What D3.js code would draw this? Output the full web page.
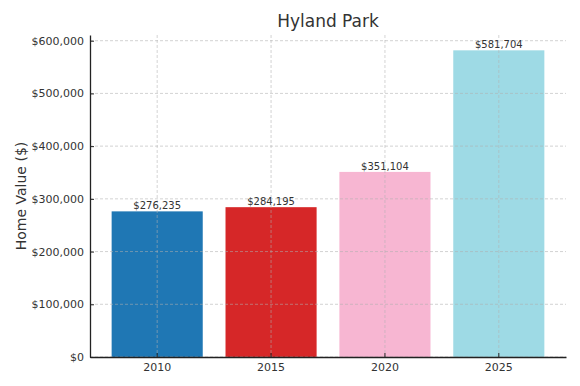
<!DOCTYPE html>
<html>
<head>
<meta charset="utf-8">
<script src="https://cdn.jsdelivr.net/npm/d3@7"></script>
<style>
  body { margin: 0; background: #fff; }
  text { font-family: "DejaVu Sans", sans-serif; fill: #333; }
</style>
</head>
<body>
<div id="chart"></div>
<script>
const years = ["2010", "2015", "2020", "2025"];
const values = [276235, 284195, 351104, 581704];
const barColors = ["#1f77b4", "#d62728", "#f7b6d2", "#9edae5"];
const yTicks = [0, 100000, 200000, 300000, 400000, 500000, 600000];

const width = 580, height = 386;
const margin = { top: 35, right: 14, bottom: 29, left: 90 };
const innerW = width - margin.left - margin.right;
const innerH = height - margin.top - margin.bottom;

const svg = d3.select("#chart").append("svg")
  .attr("width", width)
  .attr("height", height);

const g = svg.append("g")
  .attr("transform", "translate(" + margin.left + "," + margin.top + ")");

const x = d3.scaleBand()
  .domain(years)
  .range([0, innerW])
  .paddingInner(0.2)
  .paddingOuter(0.19);

const y = d3.scaleLinear()
  .domain([0, d3.max(values) * 1.05])
  .range([innerH, 0]);

const fmt = d => "$" + d3.format(",")(d);

// bars
g.selectAll(".bar")
  .data(values)
  .enter()
  .append("rect")
  .attr("x", (d, i) => x(years[i]))
  .attr("y", d => y(d))
  .attr("width", x.bandwidth())
  .attr("height", d => innerH - y(d))
  .attr("fill", (d, i) => barColors[i]);

// grid on top of the bars
const grid = g.append("g");
grid.selectAll(".hgrid")
  .data(yTicks)
  .enter()
  .append("line")
  .attr("x1", 0).attr("x2", innerW)
  .attr("y1", d => y(d)).attr("y2", d => y(d))
  .attr("stroke", "#b0b0b0")
  .attr("stroke-opacity", 0.7)
  .attr("stroke-dasharray", "3,2")
  .attr("stroke-width", 0.8);
grid.selectAll(".vgrid")
  .data(years)
  .enter()
  .append("line")
  .attr("x1", d => x(d) + x.bandwidth() / 2)
  .attr("x2", d => x(d) + x.bandwidth() / 2)
  .attr("y1", 0).attr("y2", innerH)
  .attr("stroke", "#b0b0b0")
  .attr("stroke-opacity", 0.7)
  .attr("stroke-dasharray", "3,2")
  .attr("stroke-width", 0.8);

// value labels
g.selectAll(".val")
  .data(values)
  .enter()
  .append("text")
  .attr("x", (d, i) => x(years[i]) + x.bandwidth() / 2)
  .attr("y", d => y(d) - 2)
  .attr("text-anchor", "middle")
  .style("font-size", "10px")
  .text(d => fmt(d));

// axes
const xAxis = g.append("g")
  .attr("transform", "translate(0," + innerH + ")")
  .call(d3.axisBottom(x).tickSizeInner(-4).tickSizeOuter(0).tickPadding(6));
xAxis.select(".domain").attr("stroke", "#222").attr("stroke-width", 1.3);
xAxis.selectAll(".tick line").attr("stroke", "#222");
xAxis.selectAll("text").style("font-size", "11px").attr("fill", "#333");

const yAxis = g.append("g")
  .call(d3.axisLeft(y).tickValues(yTicks).tickFormat(fmt).tickSizeInner(-4).tickSizeOuter(0).tickPadding(6));
yAxis.select(".domain").attr("stroke", "#222").attr("stroke-width", 1.3);
yAxis.selectAll(".tick line").attr("stroke", "#222");
yAxis.selectAll("text").style("font-size", "11px").attr("fill", "#333");

// title and axis label
svg.append("text")
  .attr("x", margin.left + innerW / 2)
  .attr("y", 27)
  .attr("text-anchor", "middle")
  .style("font-size", "17px")
  .text("Hyland Park");

svg.append("text")
  .attr("transform", "translate(26," + (margin.top + innerH / 2) + ") rotate(-90)")
  .attr("text-anchor", "middle")
  .style("font-size", "14px")
  .text("Home Value ($)");
</script>
</body>
</html>
